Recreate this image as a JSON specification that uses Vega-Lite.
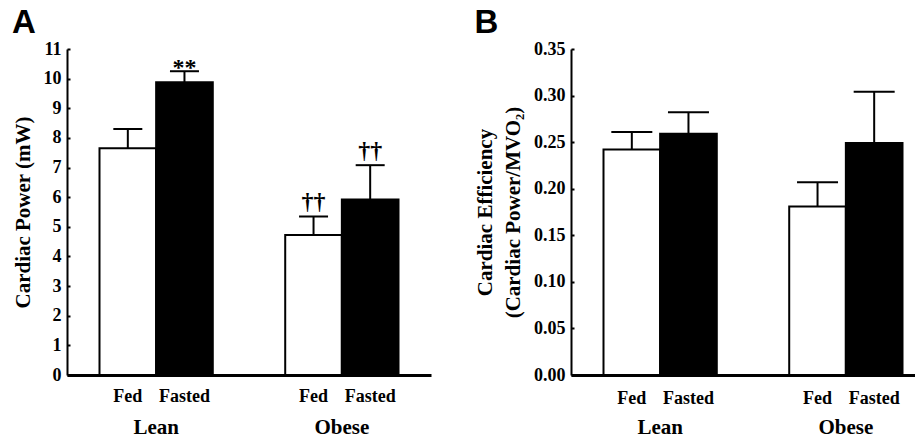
{
  "$schema": "https://vega.github.io/schema/vega-lite/v6.json",
  "background": "white",
  "padding": {"left": 12, "top": 7, "right": 0, "bottom": 0},
  "spacing": 43,
  "datasets": {
    "A": [
      {"group": "Lean", "diet": "Fed", "value": 7.65, "upper": 8.3, "note": ""},
      {"group": "Lean", "diet": "Fasted", "value": 9.88, "upper": 10.25, "note": "**"},
      {"group": "Obese", "diet": "Fed", "value": 4.72, "upper": 5.35, "note": "††"},
      {"group": "Obese", "diet": "Fasted", "value": 5.92, "upper": 7.08, "note": "††"}
    ],
    "B": [
      {"group": "Lean", "diet": "Fed", "value": 0.242, "upper": 0.261},
      {"group": "Lean", "diet": "Fasted", "value": 0.259, "upper": 0.282},
      {"group": "Obese", "diet": "Fed", "value": 0.181, "upper": 0.207},
      {"group": "Obese", "diet": "Fasted", "value": 0.249, "upper": 0.304}
    ]
  },
  "config": {
    "view": {"stroke": null},
    "font": "Liberation Serif",
    "axis": {
      "grid": false,
      "domainColor": "black",
      "tickColor": "black",
      "labelColor": "black",
      "titleColor": "black",
      "labelFont": "Liberation Serif",
      "titleFont": "Liberation Serif",
      "labelFontWeight": "bold",
      "titleFontWeight": "bold",
      "labelOverlap": false
    },
    "axisY": {
      "domainWidth": 2,
      "tickWidth": 2,
      "tickSize": -3,
      "labelPadding": 9,
      "labelFontSize": 18,
      "titleFontSize": 21,
      "titlePadding": 10
    },
    "axisX": {
      "domainWidth": 3,
      "ticks": false,
      "labelAngle": 0,
      "labelPadding": 41,
      "labelFontSize": 21,
      "title": null
    },
    "title": {"font": "Liberation Sans", "fontSize": 33, "fontWeight": "bold", "anchor": "start", "color": "black", "frame": "bounds"}
  },
  "hconcat": [
    {
      "width": 364,
      "height": 326,
      "title": {"text": "A", "offset": 0},
      "data": {"name": "A"},
      "encoding": {
        "x": {"field": "group", "type": "nominal", "scale": {"paddingInner": 0.39, "paddingOuter": 0.175}},
        "xOffset": {"field": "diet", "type": "nominal", "sort": ["Fed", "Fasted"], "scale": {"paddingInner": 0, "paddingOuter": 0}},
        "y": {"type": "quantitative", "scale": {"domain": [0, 11]}, "axis": {"title": "Cardiac Power (mW)", "values": [0,1,2,3,4,5,6,7,8,9,10,11]}}
      },
      "layer": [
        {
          "mark": {"type": "bar", "stroke": "black", "strokeWidth": 2},
          "encoding": {
            "y": {"field": "value", "type": "quantitative"},
            "fill": {"field": "diet", "type": "nominal", "scale": {"domain": ["Fed", "Fasted"], "range": ["white", "black"]}, "legend": null}
          }
        },
        {
          "mark": {"type": "rule", "strokeWidth": 2, "color": "black"},
          "encoding": {"y": {"field": "value", "type": "quantitative"}, "y2": {"field": "upper"}}
        },
        {
          "mark": {"type": "tick", "thickness": 2, "size": 29, "color": "black", "opacity": 1},
          "encoding": {"y": {"field": "upper", "type": "quantitative"}}
        },
        {
          "transform": [{"filter": "datum.note == '**'"}],
          "mark": {"type": "text", "fontSize": 24, "fontWeight": "bold", "baseline": "alphabetic", "dy": 4, "color": "black"},
          "encoding": {"y": {"field": "upper", "type": "quantitative"}, "text": {"field": "note"}}
        },
        {
          "transform": [{"filter": "datum.note == '††'"}],
          "mark": {"type": "text", "fontSize": 24, "fontWeight": "bold", "baseline": "alphabetic", "dy": -7, "color": "black"},
          "encoding": {"y": {"field": "upper", "type": "quantitative"}, "text": {"field": "note"}}
        },
        {
          "mark": {"type": "text", "fontSize": 18, "fontWeight": "bold", "baseline": "middle", "dy": 22, "color": "black"},
          "encoding": {"y": {"datum": 0}, "text": {"field": "diet"}}
        }
      ]
    },
    {
      "width": 364,
      "height": 326,
      "title": {"text": "B", "offset": 0},
      "data": {"name": "B"},
      "encoding": {
        "x": {"field": "group", "type": "nominal", "scale": {"paddingInner": 0.39, "paddingOuter": 0.175}},
        "xOffset": {"field": "diet", "type": "nominal", "sort": ["Fed", "Fasted"], "scale": {"paddingInner": 0, "paddingOuter": 0}},
        "y": {"type": "quantitative", "scale": {"domain": [0, 0.35]}, "axis": {"title": ["Cardiac Efficiency", "(Cardiac Power/MVO₂)"], "values": [0, 0.05, 0.1, 0.15, 0.2, 0.25, 0.3, 0.35], "format": ".2f", "titleLineHeight": 28}}
      },
      "layer": [
        {
          "mark": {"type": "bar", "stroke": "black", "strokeWidth": 2},
          "encoding": {
            "y": {"field": "value", "type": "quantitative"},
            "fill": {"field": "diet", "type": "nominal", "scale": {"domain": ["Fed", "Fasted"], "range": ["white", "black"]}, "legend": null}
          }
        },
        {
          "mark": {"type": "rule", "strokeWidth": 2, "color": "black"},
          "encoding": {"y": {"field": "value", "type": "quantitative"}, "y2": {"field": "upper"}}
        },
        {
          "mark": {"type": "tick", "thickness": 2, "size": 41, "color": "black", "opacity": 1},
          "encoding": {"y": {"field": "upper", "type": "quantitative"}}
        },
        {
          "mark": {"type": "text", "fontSize": 18, "fontWeight": "bold", "baseline": "middle", "dy": 24, "color": "black"},
          "encoding": {"y": {"datum": 0}, "text": {"field": "diet"}}
        }
      ]
    }
  ]
}
